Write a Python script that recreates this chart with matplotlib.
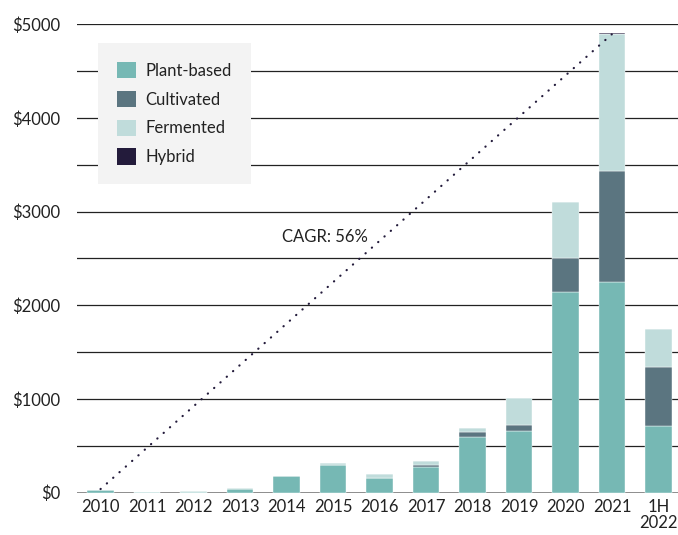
import numpy as np
import matplotlib.pyplot as plt
from matplotlib.patches import Patch

# data (USD millions)
years = ['2010', '2011', '2012', '2013', '2014', '2015', '2016', '2017',
         '2018', '2019', '2020', '2021', '1H\n2022']
plant_based = [22, 6, 3, 40, 176, 294, 158, 276, 596, 660, 2145, 2249, 710]
cultivated = [0, 0, 0, 0, 0, 0, 0, 15, 47, 61, 360, 1189, 634]
fermented = [6, 0, 12, 6, 3, 21, 40, 46, 46, 285, 593, 1453, 399]
hybrid = [0, 0, 0, 0, 0, 0, 0, 0, 0, 0, 0, 15, 0]
cagr_start = 37
cagr_end = 4895
cagr_label = 'CAGR: 56%'

series = [('Plant-based', plant_based, '#76b8b4'),
          ('Cultivated', cultivated, '#5b7580'),
          ('Fermented', fermented, '#c0dcdb'),
          ('Hybrid', hybrid, '#231b3b')]

plt.rcParams['font.family'] = ['Lato', 'DejaVu Sans']
plt.rcParams['text.color'] = '#222222'

fig = plt.figure(figsize=(6.78, 5.35), dpi=100)
ax = fig.add_axes([0.114, 0.0794, 0.886, 0.8752])

x = np.arange(len(years))
bottom = np.zeros(len(years))
for name, vals, col in series:
    vals = np.array(vals, dtype=float)
    ax.bar(x, vals, width=0.575, bottom=bottom, color=col,
           edgecolor='white', linewidth=0.3, zorder=2)
    bottom += vals

# CAGR dotted line
ax.plot([0, 11], [cagr_start, cagr_end], color='#231b3b', linewidth=1.6,
        linestyle=(0, (0.1, 3.7)), dash_capstyle='round', zorder=3)
ax.text(3.91, 2733, cagr_label, fontsize=12, ha='left', va='center')

# gridlines every 500
for yv in range(500, 5001, 500):
    ax.axhline(yv, color='#222222', linewidth=0.9, zorder=1)
ax.axhline(0, color='#7a7a7a', linewidth=1.2, zorder=1.5)

ax.set_xlim(-0.5, 12.42)
ax.set_ylim(0, 5000)
ax.set_yticks(range(0, 5001, 1000))
ax.set_yticklabels(['$%d' % v for v in range(0, 5001, 1000)])
ax.set_xticks(x)
ax.set_xticklabels(years, linespacing=0.95)
ax.tick_params(axis='both', length=0, labelsize=12, colors='#222222')
ax.tick_params(axis='y', pad=12)
ax.tick_params(axis='x', pad=5)
for s in ax.spines.values():
    s.set_visible(False)

handles = [Patch(facecolor=c, edgecolor='none') for _, _, c in series]
labels = [n for n, _, _ in series]
leg = ax.legend(handles, labels, loc='upper left',
                bbox_to_anchor=(0.0345, 0.9607), borderaxespad=0,
                fontsize=12, frameon=True, fancybox=False,
                facecolor='#f3f3f3', edgecolor='none', framealpha=1,
                handlelength=1.14, handleheight=1.14, handletextpad=0.55,
                labelspacing=0.72, borderpad=1.15)

fig.savefig('out.png', dpi=100)
